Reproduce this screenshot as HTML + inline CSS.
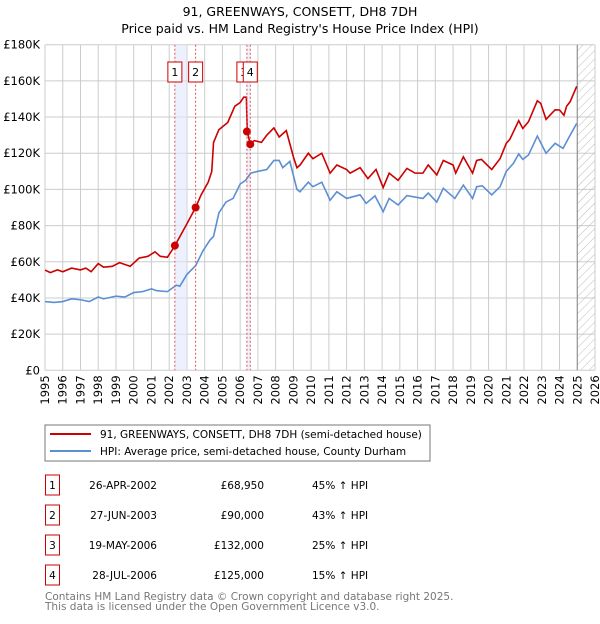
<!DOCTYPE html>
<html><head><meta charset="utf-8"><style>
body{margin:0;background:#fff;width:600px;height:620px;overflow:hidden;font-family:"DejaVu Sans","Liberation Sans",sans-serif}
svg text{font-family:"DejaVu Sans","Liberation Sans",sans-serif}
</style></head><body>
<svg id="c" width="600" height="620" xmlns="http://www.w3.org/2000/svg">
<defs><pattern id="hatch" width="6" height="6" patternUnits="userSpaceOnUse" patternTransform="rotate(45)"><line x1="0" y1="0" x2="0" y2="6" stroke="#bbb" stroke-width="1"/></pattern></defs>
<text x="300" y="16" text-anchor="middle" font-size="12.5">91, GREENWAYS, CONSETT, DH8 7DH</text>
<text x="300" y="33" text-anchor="middle" font-size="12.5">Price paid vs. HM Land Registry's House Price Index (HPI)</text>
<g id="grid"></g><g id="bands"></g><g id="lines"></g><g id="marks"></g><g id="axes"></g>
<rect x="45" y="425" width="385" height="36" fill="#fff" stroke="#777"/>
<line x1="50" y1="434" x2="91" y2="434" stroke="#cc0000" stroke-width="2"/>
<text x="100" y="438" font-size="10.5">91, GREENWAYS, CONSETT, DH8 7DH (semi-detached house)</text>
<line x1="50" y1="451" x2="91" y2="451" stroke="#5b8fd4" stroke-width="2"/>
<text x="100" y="455" font-size="10.5">HPI: Average price, semi-detached house, County Durham</text>
<g id="table" font-size="10.5"></g>
<text x="45" y="600" font-size="10.5" fill="#777">Contains HM Land Registry data © Crown copyright and database right 2025.</text>
<text x="45" y="610" font-size="10.5" fill="#777">This data is licensed under the Open Government Licence v3.0.</text>
</svg>
<script>
const hpiYears=[1995,1995.5,1996,1996.5,1997,1997.5,1998,1998.3,1999,1999.5,2000,2000.5,2001,2001.3,2001.9,2002.4,2002.6,2003,2003.5,2003.9,2004.3,2004.5,2004.8,2005.2,2005.6,2006,2006.3,2006.6,2007,2007.5,2007.9,2008.2,2008.4,2008.8,2009.2,2009.37,2009.84,2010.1,2010.6,2011.07,2011.45,2012.0,2012.76,2013.1,2013.6,2014.06,2014.4,2014.9,2015.4,2016.3,2016.6,2017.08,2017.45,2018.1,2018.58,2019.1,2019.33,2019.65,2020.18,2020.65,2021.0,2021.4,2021.7,2021.93,2022.25,2022.75,2023.24,2023.75,2024.2,2024.6,2024.97];
const hpiValues=[38,37.5,38,39.5,39,38,40.5,39.5,41,40.5,43,43.5,45,44,43.5,47,46.5,53,58,66,72,74,87,93,95,103,105,109,110,111,116,116,112,115.5,100,98.7,104,101.5,104,94,98.7,95,97,92.3,96.4,87.7,95,91.4,96.6,95,98,93,100.6,95,102.4,95,101.5,102,97,101.5,110,114.4,119.6,116.6,119,129.5,120,125.5,122.7,130,136.5];
const paidYears=[1995,1995.3,1995.7,1996,1996.5,1997,1997.3,1997.6,1998,1998.3,1998.8,1999.2,1999.8,2000.3,2000.8,2001.2,2001.5,2001.9,2002.3,2003,2003.49,2003.8,2004.2,2004.4,2004.5,2004.8,2005.3,2005.7,2006,2006.2,2006.35,2006.4,2006.57,2006.8,2007.2,2007.5,2007.9,2008.2,2008.6,2009,2009.2,2009.37,2009.84,2010.1,2010.6,2011.07,2011.45,2012.0,2012.2,2012.76,2013.2,2013.66,2014.06,2014.4,2014.9,2015.4,2015.86,2016.3,2016.6,2017.08,2017.45,2018.0,2018.15,2018.58,2019.1,2019.33,2019.6,2020.18,2020.65,2021.0,2021.2,2021.7,2021.93,2022.25,2022.75,2022.94,2023.24,2023.75,2024.0,2024.25,2024.4,2024.6,2024.97];
const paidValues=[55.4,54,55.5,54.5,56.5,55.5,56.5,54.5,59,57,57.5,59.5,57.5,62,63,65.5,63,62.5,68.5,81,90,97,104,110,126,133,137,146,148,151,151,132,125,127,126,130,134,129,132.5,118,112,113.4,120,117,120,109,113.5,111,109,112,106,111,101,109,105,111.6,109,109,113.5,108,116,113.5,109,118,109,116,116.6,111,117,125.5,127.7,138,133.7,137.4,149,147.6,138.7,144,143.9,141,146,148.5,157];
const saleYears=[2002.32,2003.49,2006.38,2006.57];
const saleValues=[68.95,90,132,125];
const saleLabels=["1","2","3","4"];
const saleDates=["26-APR-2002","27-JUN-2003","19-MAY-2006","28-JUL-2006"];
const salePrices=["£68,950","£90,000","£132,000","£125,000"];
const saleHpi=["45% ↑ HPI","43% ↑ HPI","25% ↑ HPI","15% ↑ HPI"];
const yTicks=[0,20,40,60,80,100,120,140,160,180];
const yTickLabels=["£0","£20K","£40K","£60K","£80K","£100K","£120K","£140K","£160K","£180K"];
const xTicks=[1995,1996,1997,1998,1999,2000,2001,2002,2003,2004,2005,2006,2007,2008,2009,2010,2011,2012,2013,2014,2015,2016,2017,2018,2019,2020,2021,2022,2023,2024,2025,2026];

const NS="http://www.w3.org/2000/svg";
const X0=45,X1=595,Y0=370.3,Y1=44.7;
const xs=y=>X0+(y-1995)/31*(X1-X0);
const ys=v=>Y0-v/180*(Y0-Y1);
function mk(tag,attrs,parent,txt){const e=document.createElementNS(NS,tag);for(const k in attrs)e.setAttribute(k,attrs[k]);if(txt!==undefined)e.textContent=txt;document.getElementById(parent).appendChild(e);return e;}

mk('rect',{x:X0,y:Y1,width:X1-X0,height:Y0-Y1,fill:'#fff'},'grid');
yTicks.forEach((t,i)=>{
  const l=mk('line',{x1:X0,x2:X1,y1:ys(t),y2:ys(t),stroke:'#ccc','stroke-width':1},'grid');
  
  
  const tx=mk('text',{x:40,y:ys(t)+4,'text-anchor':'end','font-size':11.5},'axes',yTickLabels[i]);
  
  
});
xTicks.forEach(t=>{
  const l=mk('line',{x1:xs(t),x2:xs(t),y1:Y1,y2:Y0,stroke:'#ccc','stroke-width':1},'grid');
  
  
  const tx=mk('text',{x:0,y:0,'text-anchor':'end','font-size':11.5,transform:`translate(${xs(t)+4},${Y0+5}) rotate(-90)`},'axes',String(t));
  
  
});
// shaded bands
const b1=mk('rect',{x:xs(saleYears[0]),y:Y1,width:xs(2003)-xs(saleYears[0]),height:Y0-Y1,fill:'#dfe8fb',opacity:0.6},'bands');


const b2=mk('rect',{x:xs(saleYears[2]),y:Y1,width:xs(saleYears[3])-xs(saleYears[2]),height:Y0-Y1,fill:'#dfe8fb',opacity:0.6},'bands');


const h=mk('rect',{x:xs(2025),y:Y1,width:X1-xs(2025),height:Y0-Y1,fill:'url(#hatch)'},'bands');


const hl=mk('line',{x1:xs(2025),x2:xs(2025),y1:Y1,y2:Y0,stroke:'#888','stroke-width':1},'bands');



const hp=mk('polyline',{points:hpiYears.map((y,i)=>xs(y)+','+ys(hpiValues[i])).join(' '),fill:'none',stroke:'#5b8fd4','stroke-width':1.6},'lines');


const pp=mk('polyline',{points:paidYears.map((y,i)=>xs(y)+','+ys(paidValues[i])).join(' '),fill:'none',stroke:'#cc0000','stroke-width':1.6},'lines');



saleYears.forEach((y,i)=>{
  const l=mk('line',{x1:xs(y),x2:xs(y),y1:Y1,y2:Y0,stroke:'#e05555','stroke-width':1,'stroke-dasharray':'2,2'},'marks');
  
  
  const c=mk('circle',{cx:xs(y),cy:ys(saleValues[i]),r:4,fill:'#cc0000'},'marks');
  
  
  const bx=xs(y)-(i==2?10:7);
  const r=mk('rect',{x:bx,y:62,width:14,height:20,fill:'#fff',stroke:'#cc0000'},'marks');
  
  
  const t=mk('text',{x:bx+7,y:76,'text-anchor':'middle','font-size':11},'marks',saleLabels[i]);
  
  
});
saleLabels.forEach((s,i)=>{
  const yy=475+i*30;
  const r=mk('rect',{x:45.5,y:yy,width:14,height:20,fill:'#fff',stroke:'#cc0000'},'table');
  
  
  const a=mk('text',{x:52.5,y:yy+14,'text-anchor':'middle'},'table',s);
  
  
  const d=mk('text',{x:157,y:yy+14,'text-anchor':'end'},'table',saleDates[i]);
  
  
  const p=mk('text',{x:264,y:yy+14,'text-anchor':'end'},'table',salePrices[i]);
  
  
  const q=mk('text',{x:312,y:yy+14},'table',saleHpi[i]);
  
  
});
</script>
</body></html>
